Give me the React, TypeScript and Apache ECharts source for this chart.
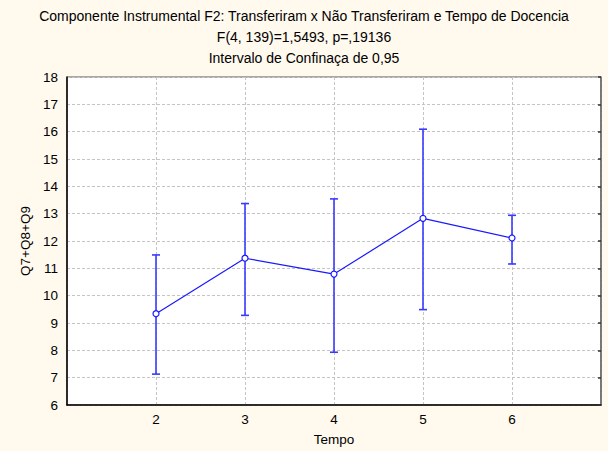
import React, { useEffect, useRef } from "react";
import * as echarts from "echarts";

const titleLines = [
  "Componente Instrumental F2: Transferiram x Não Transferiram e Tempo de Docencia",
  "F(4, 139)=1,5493, p=,19136",
  "Intervalo de Confinaça de 0,95",
];
const tempo = [2, 3, 4, 5, 6];
const means = [9.34, 11.37, 10.79, 12.83, 12.11];
const lower = [7.13, 9.28, 7.93, 9.49, 11.16];
const upper = [11.49, 13.37, 13.54, 16.09, 12.94];
const xName = "Tempo";
const yName = "Q7+Q8+Q9";

export default function App() {
  const ref = useRef<HTMLDivElement>(null);
  useEffect(() => {
    if (!ref.current) return;
    const chart = echarts.init(ref.current, undefined, { renderer: "svg" });
    const font = "Liberation Sans, Arial, sans-serif";
    const lineData = tempo.map((t, i) => [t, means[i]]);
    const errData = tempo.map((t, i) => [t, lower[i], upper[i]]);
    chart.setOption({
      animation: false,
      backgroundColor: "#FFF9EE",
      title: titleLines.map((t, i) => ({
        text: t,
        left: "center",
        top: 4 + i * 21,
        textStyle: { fontFamily: font, fontSize: 14, fontWeight: "normal", color: "#000" },
      })),
      grid: {
        left: 67,
        right: 7,
        top: 77,
        bottom: 46,
        outerBoundsMode: "none",
        containLabel: false,
        show: true,
        backgroundColor: "#ffffff",
        borderColor: "#555",
        borderWidth: 1,
      },
      xAxis: {
        type: "value",
        min: 1,
        max: 7,
        interval: 1,
        name: xName,
        nameLocation: "middle",
        nameGap: 27,
        nameTextStyle: { fontFamily: font, fontSize: 13.5, color: "#000" },
        axisLine: { show: true, lineStyle: { color: "#000", width: 1.5 } },
        axisTick: { show: false },
        axisLabel: {
          fontFamily: font,
          fontSize: 13.5,
          color: "#000",
          margin: 7,
          showMinLabel: false,
          showMaxLabel: false,
        },
        splitLine: { show: true, lineStyle: { color: "#c4c4c4", type: [3, 2] } },
      },
      yAxis: [
        {
          type: "value",
          min: 6,
          max: 18,
          interval: 1,
          name: yName,
          nameLocation: "middle",
          nameGap: 35,
          nameRotate: 90,
          nameTextStyle: { fontFamily: font, fontSize: 13.5, color: "#000" },
          axisLine: { show: true, lineStyle: { color: "#000", width: 1.5 } },
          axisTick: { show: false },
          axisLabel: { fontFamily: font, fontSize: 13.5, color: "#000", margin: 9 },
          splitLine: { show: true, lineStyle: { color: "#c4c4c4", type: [3, 2] } },
        },
        {
          type: "value",
          min: 6,
          max: 18,
          interval: 1,
          position: "right",
          axisLine: { show: true, lineStyle: { color: "#666", width: 1.5 } },
          axisTick: { show: true, inside: true, length: 3, lineStyle: { color: "#333", width: 1.5 } },
          axisLabel: { show: false },
          splitLine: { show: false },
        },
      ],
      series: [
        {
          type: "custom",
          data: errData,
          encode: { x: 0, y: [1, 2] },
          renderItem: (params: any, api: any) => {
            const x = api.value(0);
            const lo = api.coord([x, api.value(1)]);
            const hi = api.coord([x, api.value(2)]);
            const hw = 4;
            const style = { stroke: "#3a3aff", lineWidth: 1.6 };
            return {
              type: "group",
              children: [
                { type: "line", shape: { x1: lo[0], y1: lo[1], x2: hi[0], y2: hi[1] }, style },
                { type: "line", shape: { x1: lo[0] - hw, y1: lo[1], x2: lo[0] + hw, y2: lo[1] }, style },
                { type: "line", shape: { x1: hi[0] - hw, y1: hi[1], x2: hi[0] + hw, y2: hi[1] }, style },
              ],
            };
          },
          z: 2,
        },
        {
          type: "line",
          data: lineData,
          symbol: "circle",
          symbolSize: 6,
          itemStyle: { color: "#ffffff", borderColor: "#1a1aff", borderWidth: 1.2 },
          lineStyle: { color: "#1a1aff", width: 1.2 },
          z: 3,
        },
      ],
    });
    return () => chart.dispose();
  }, []);
  return (
    <div
      ref={ref}
      style={{ position: "fixed", left: 0, top: 0, width: 608, height: 451 }}
    />
  );
}
